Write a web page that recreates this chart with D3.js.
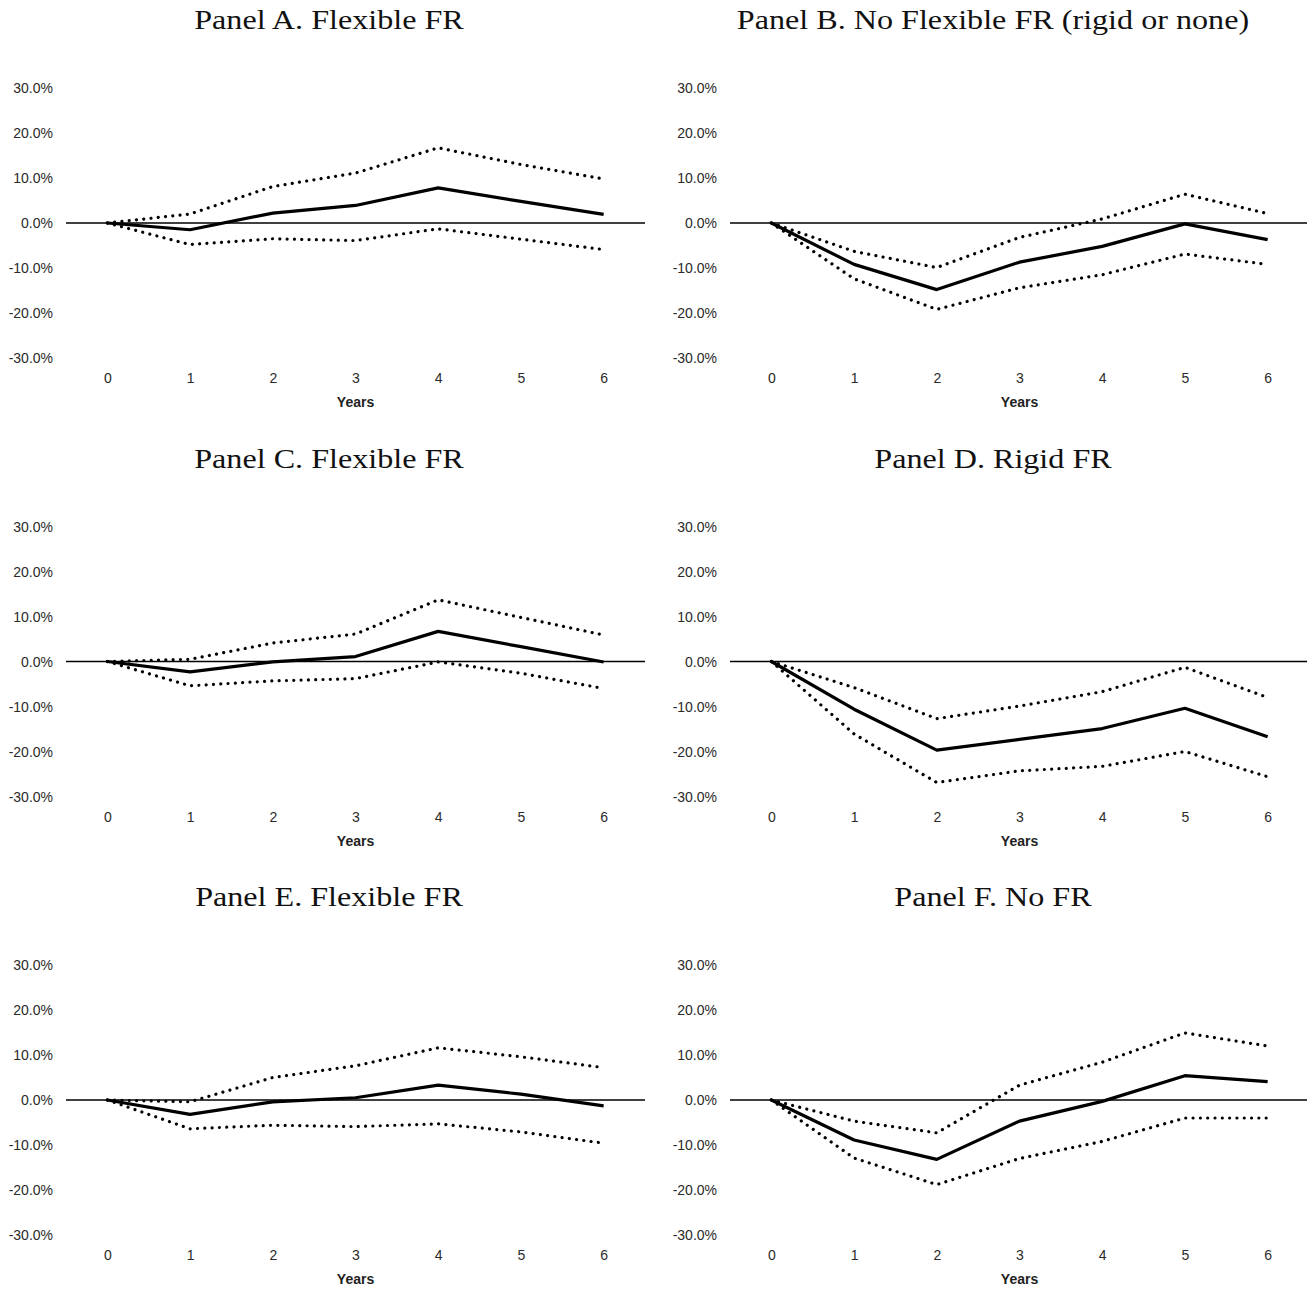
<!DOCTYPE html>
<html>
<head>
<meta charset="utf-8">
<script src="https://cdn.jsdelivr.net/npm/d3@7"></script>
<style>
  body { margin: 0; background: #fff; }
  .tick text { font-family: "Liberation Sans", Arial, sans-serif; }
</style>
</head>
<body>
<div id="chart-area"></div>
<script>
// years on the x axis
var years = [0, 1, 2, 3, 4, 5, 6];
var yTicks = [0.30, 0.20, 0.10, 0.0, -0.10, -0.20, -0.30];

var titles = [
	"Panel A. Flexible FR",
	"Panel B. No Flexible FR (rigid or none)",
	"Panel C. Flexible FR",
	"Panel D. Rigid FR",
	"Panel E. Flexible FR",
	"Panel F. No FR"
];

// point estimates (percent)
var estA = [0, -1.5, 2.2, 3.9, 7.8, 4.8, 1.9];
var estB = [0, -9.2, -14.8, -8.7, -5.2, -0.2, -3.7];
var estC = [0, -2.3, -0.1, 1.1, 6.7, 3.3, -0.1];
var estD = [0, -10.6, -19.7, -17.3, -14.9, -10.4, -16.7];
var estE = [0, -3.2, -0.4, 0.5, 3.3, 1.3, -1.3];
var estF = [0, -8.9, -13.2, -4.7, -0.3, 5.4, 4.1];

// upper bands
var upA = [0, 2.0, 8.1, 11.1, 16.7, 13.0, 9.8];
var upB = [0, -6.3, -9.9, -3.2, 0.9, 6.4, 2.1];
var upC = [0, 0.5, 4.1, 6.1, 13.7, 9.8, 5.9];
var upD = [0, -5.8, -12.7, -9.9, -6.7, -1.3, -8.0];
var upE = [0, -0.4, 5.0, 7.6, 11.6, 9.6, 7.2];
var upF = [0, -4.7, -7.3, 3.3, 8.4, 14.9, 12.0];

// lower bands
var loA = [0, -4.8, -3.5, -3.9, -1.3, -3.6, -5.9];
var loB = [0, -12.4, -19.2, -14.4, -11.5, -6.9, -9.2];
var loC = [0, -5.4, -4.3, -3.8, -0.1, -2.6, -6.0];
var loD = [0, -16.1, -26.9, -24.3, -23.3, -20.0, -25.6];
var loE = [0, -6.4, -5.6, -5.9, -5.3, -7.1, -9.6];
var loF = [0, -12.9, -18.8, -13.0, -9.2, -4.0, -4.0];

var panels = [
	{title: titles[0], est: estA, up: upA, lo: loA},
	{title: titles[1], est: estB, up: upB, lo: loB},
	{title: titles[2], est: estC, up: upC, lo: loC},
	{title: titles[3], est: estD, up: upD, lo: loD},
	{title: titles[4], est: estE, up: upE, lo: loE},
	{title: titles[5], est: estF, up: upF, lo: loF}
];

var svg = d3.select("#chart-area")
	.append("svg")
	.attr("width", 1307)
	.attr("height", 1291);

var colOffset = 664;
var rowOffset = 438.5;

// scales shared by all panels (local coords)
var x = d3.scaleLinear()
	.domain([-0.5, 6.5])
	.range([66, 645]);

var y = d3.scaleLinear()
	.domain([-0.30, 0.30])
	.range([358, 88]);

var pct = d3.format(".1%");
function pctFormat(d){ return pct(d).replace("\u2212", "-"); }

var line = d3.line()
	.x(function(d, i){ return x(years[i]); })
	.y(function(d){ return y(d / 100); });

// the titles are set in a wide book face; stretch the serif to the same width
var titleStretch = 1.19;

panels.forEach(function(p, k){
	var col = k % 2, row = Math.floor(k / 2);
	var g = svg.append("g")
		.attr("transform", "translate(" + (col * colOffset) + "," + (row * rowOffset) + ")");

	// title
	var t = g.append("text")
		.attr("x", 329)
		.attr("y", 29)
		.attr("text-anchor", "middle")
		.attr("font-family", "'Liberation Serif', 'Times New Roman', serif")
		.attr("font-size", "27px")
		.attr("fill", "#111")
		.text(p.title);
	var len = t.node().getComputedTextLength();
	t.attr("textLength", len * titleStretch)
		.attr("lengthAdjust", "spacingAndGlyphs");

	// y axis (labels only)
	var yAxis = d3.axisLeft(y)
		.tickValues(yTicks)
		.tickFormat(pctFormat)
		.tickSize(0)
		.tickPadding(0);
	var ya = g.append("g")
		.attr("transform", "translate(53,0)")
		.call(yAxis);
	ya.select(".domain").remove();
	ya.selectAll("text")
		.attr("font-size", "14px")
		.attr("fill", "#2a2a2a")
		.attr("dy", "0.35em");

	// x axis (labels only)
	var xAxis = d3.axisBottom(x)
		.tickValues(years)
		.tickFormat(d3.format("d"))
		.tickSize(0)
		.tickPadding(0);
	var xa = g.append("g")
		.attr("transform", "translate(0,372)")
		.call(xAxis);
	xa.select(".domain").remove();
	xa.selectAll("text")
		.attr("font-size", "14px")
		.attr("fill", "#2a2a2a")
		.attr("dy", "0")
		.attr("y", 11);

	g.append("text")
		.attr("x", x(3))
		.attr("y", 407)
		.attr("text-anchor", "middle")
		.attr("font-family", "'Liberation Sans', Arial, sans-serif")
		.attr("font-size", "14px")
		.attr("font-weight", "bold")
		.attr("fill", "#222")
		.text("Years");

	// zero line
	g.append("line")
		.attr("x1", x(-0.5))
		.attr("x2", x(6.5))
		.attr("y1", y(0))
		.attr("y2", y(0))
		.attr("stroke", "#000")
		.attr("stroke-width", 1.3);

	// bands
	[p.up, p.lo].forEach(function(band){
		g.append("path")
			.datum(band)
			.attr("d", line)
			.attr("fill", "none")
			.attr("stroke", "#000")
			.attr("stroke-width", 3.2)
			.attr("stroke-linecap", "round")
			.attr("stroke-dasharray", "0.01,7.3");
	});

	// estimate
	g.append("path")
		.datum(p.est)
		.attr("d", line)
		.attr("fill", "none")
		.attr("stroke", "#000")
		.attr("stroke-width", 3.2)
		.attr("stroke-linejoin", "round");
});
</script>
</body>
</html>
